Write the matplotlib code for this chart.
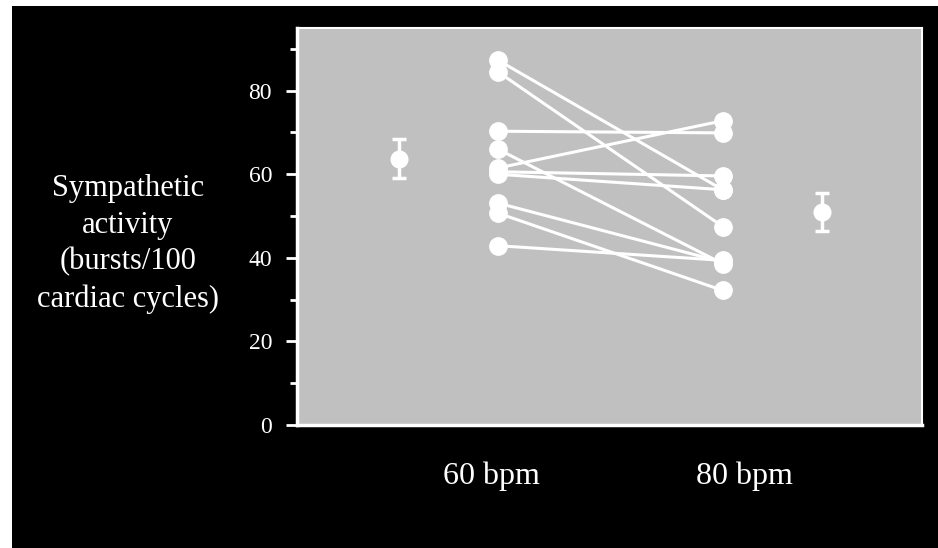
import numpy as np
import matplotlib
matplotlib.use("Agg")
import matplotlib.pyplot as plt
from matplotlib.patches import Rectangle

# data
conditions = ["60 bpm", "80 bpm"]
hr60 = [87.3, 84.5, 70.3, 66.0, 61.5, 60.6, 60.0, 53.1, 50.7, 42.9]
hr80 = [56.3, 47.5, 69.9, 38.6, 72.8, 59.6, 56.3, 39.0, 32.2, 39.4]
mean_vals = [63.7, 50.9]
err_vals = [4.7, 4.5]
y_ticks = [0, 20, 40, 60, 80]
y_label = "Sympathetic\nactivity\n(bursts/100\ncardiac cycles)"

plt.rcParams["font.family"] = ["Liberation Serif", "DejaVu Serif"]

fig = plt.figure(figsize=(9.38, 5.48), dpi=100, facecolor="white")
# black slide background with thin white margin on left/top
fig.patches.append(Rectangle((12 / 938, 0), 1, 1 - 6 / 548, transform=fig.transFigure,
                             facecolor="black", edgecolor="none", zorder=-10))

ax = fig.add_axes([297 / 938, 1 - 425 / 548, 625 / 938, 397 / 548])
ax.set_facecolor("#c0c0c0")

x_pos = [1, 2]
mean_x = [0.559, 2.442]
label_x = [0.973, 2.095]

for a, b in zip(hr60, hr80):
    ax.plot(x_pos, [a, b], color="white", lw=2.2, marker="o", ms=12.5,
            mfc="white", mec="white", solid_capstyle="round", zorder=3)

ax.errorbar(mean_x, mean_vals, yerr=err_vals, fmt="o", color="white", ms=12,
            elinewidth=2.5, capsize=5, capthick=2.5, zorder=4)

ax.set_xlim(0.1055, 2.887)
ax.set_ylim(0, 95)
ax.set_yticks(y_ticks)
ax.set_yticks([10, 30, 50, 70, 90], minor=True)
ax.set_xticks(label_x)
ax.set_xticklabels(conditions)

ax.tick_params(axis="y", which="major", colors="white", length=8, width=2,
               labelsize=17, pad=10)
ax.tick_params(axis="y", which="minor", colors="white", length=5, width=2)
ax.tick_params(axis="x", length=0, labelsize=23, labelcolor="white", pad=26)

for side in ["left", "bottom"]:
    ax.spines[side].set_color("white")
    ax.spines[side].set_linewidth(2.5)
for side in ["top", "right"]:
    ax.spines[side].set_color("white")
    ax.spines[side].set_linewidth(1.5)

fig.text(128 / 938, 1 - 244 / 548, y_label, color="white", fontsize=22,
         ha="center", va="center", multialignment="center", linespacing=1.35)

fig.savefig("out.png", dpi=100, facecolor=fig.get_facecolor())
